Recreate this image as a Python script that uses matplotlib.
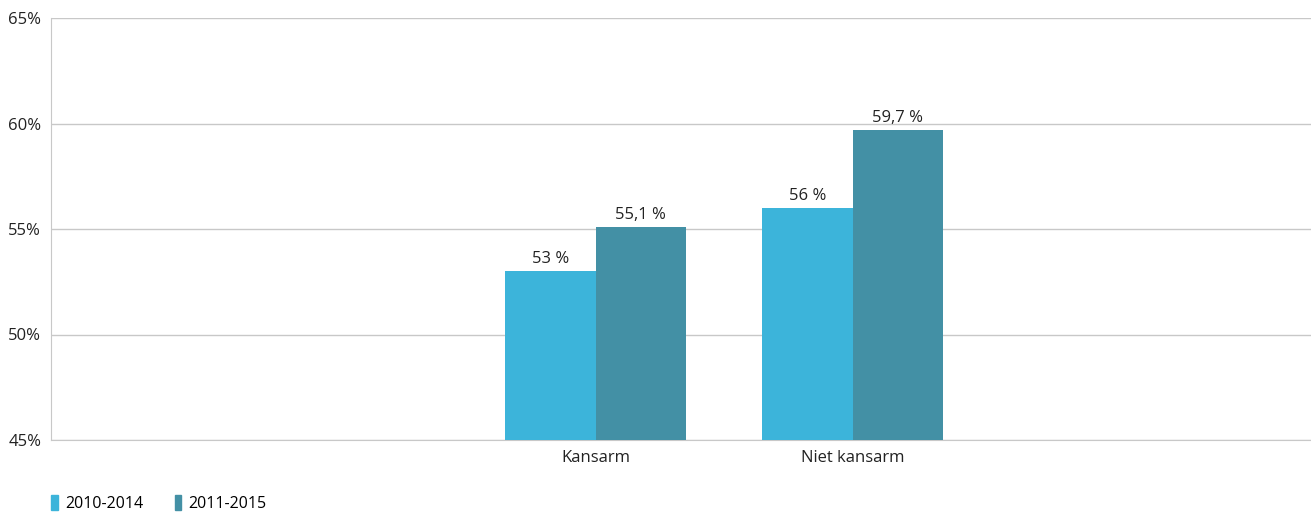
import matplotlib.pyplot as plt
from matplotlib.patches import Rectangle

categories = ["Kansarm", "Niet kansarm"]
series_names = ["2010-2014", "2011-2015"]
values_2010_2014 = [53.0, 56.0]
values_2011_2015 = [55.1, 59.7]
labels_2010_2014 = ["53 %", "56 %"]
labels_2011_2015 = ["55,1 %", "59,7 %"]
y_ticks = [45, 50, 55, 60, 65]

LIGHT = "#3cb4da"
DARK = "#4390a5"

plt.rcParams["font.family"] = ["Open Sans", "DejaVu Sans"]

fig = plt.figure(figsize=(13.11, 5.15), dpi=100)
ax = fig.add_axes([51 / 1311, 1 - 440 / 515, 1 - 51 / 1311, (440 - 18) / 515])

w = 0.352
x = list(range(len(categories)))
b1 = ax.bar([i - w / 2 for i in x], [v - 45 for v in values_2010_2014], w,
            bottom=45, color=LIGHT, zorder=3)
b2 = ax.bar([i + w / 2 for i in x], [v - 45 for v in values_2011_2015], w,
            bottom=45, color=DARK, zorder=3)

for bars, labs in ((b1, labels_2010_2014), (b2, labels_2011_2015)):
    for rect, lab in zip(bars, labs):
        ax.text(rect.get_x() + rect.get_width() / 2, rect.get_y() + rect.get_height() + 0.2,
                lab, ha="center", va="bottom", fontsize=12, color="#222222")

ax.set_ylim(45, 65)
ax.set_xlim(-2.119, 2.784)
ax.set_yticks(y_ticks)
ax.set_yticklabels([f"{t}%" for t in y_ticks])
ax.set_xticks(x)
ax.set_xticklabels(categories)
ax.tick_params(length=0, labelsize=12, colors="#222222")
ax.tick_params(axis="x", pad=7)
ax.tick_params(axis="y", pad=7)
ax.grid(axis="y", color="#c8c8c8", linewidth=1, zorder=0)
for s in ["top", "right"]:
    ax.spines[s].set_visible(False)
ax.spines["left"].set_color("#c8c8c8")
ax.spines["bottom"].set_color("#c8c8c8")

handles = [Rectangle((0, 0), 1, 1, color=LIGHT), Rectangle((0, 0), 1, 1, color=DARK)]
fig.legend(handles, series_names, loc="lower left", bbox_to_anchor=(37 / 1311, -0.022),
           ncol=2, frameon=False, fontsize=11.5, handlelength=0.4, handleheight=1.1,
           handletextpad=0.45, columnspacing=2.0)

fig.savefig("out.png", dpi=100)
